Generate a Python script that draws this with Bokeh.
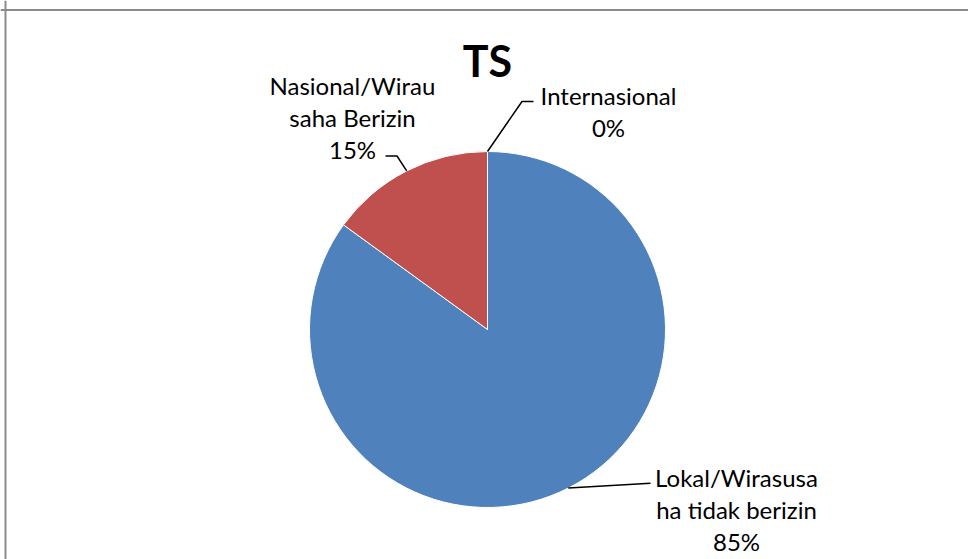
import math
from bokeh.plotting import figure
from bokeh.models import Range1d, Span
from bokeh.core.properties import value
from bokeh.embed import file_html
from bokeh.resources import INLINE

title = "TS"
categories = ["Lokal/Wirasusaha tidak berizin", "Nasional/Wirausaha Berizin", "Internasional"]
values = [85, 15, 0]
label_lines = [["Lokal/Wirasusa", "ha tidak berizin"], ["Nasional/Wirau", "saha Berizin"], ["Internasional"]]
colors = ["#4F81BD", "#C0504D", "#9BBB59"]

W, H = 968, 559
p = figure(width=W, height=H, output_backend="svg", toolbar_location=None,
           x_range=Range1d(0, W), y_range=Range1d(-H, 0),
           min_border=0, outline_line_color=None, background_fill_color="white")
p.axis.visible = False
p.grid.visible = False

cx, cy, r = 487, -329, 178
total = sum(values)
cum = 0.0
starts, ends, mids = [], [], []
for v in values:
    f0 = cum / total
    cum += v
    f1 = cum / total
    starts.append(math.pi / 2 - 2 * math.pi * f1)
    ends.append(math.pi / 2 - 2 * math.pi * f0)
    mids.append(math.pi / 2 - 2 * math.pi * (f0 + f1) / 2)

for s, e, c, v in zip(starts, ends, colors, values):
    if v > 0:
        p.wedge(x=cx, y=cy, radius=r, start_angle=s, end_angle=e, fill_color=c,
                line_color="white", line_width=1)

# label layout (pixel positions: text center x, first line center y, leader elbow)
layout = [
    dict(tx=736, ty=477, elbow=(650, 482.7), end=(650, 482.7)),
    dict(tx=352, ty=85, elbow=(396.5, 155.5), end=(385, 155.5)),
    dict(tx=608, ty=95, elbow=(521.5, 101), end=(533, 101)),
]
font = value("Lato")
for lines, v, m, L in zip(label_lines, values, mids, layout):
    ex = cx + r * math.cos(m)
    ey = cy + r * math.sin(m)
    p.line([ex, L["elbow"][0], L["end"][0]], [ey, -L["elbow"][1], -L["end"][1]],
           line_color="black", line_width=1.5)
    all_lines = lines + [f"{round(100 * v / total)}%"]
    for i, t in enumerate(all_lines):
        p.text(x=[L["tx"]], y=[-(L["ty"] + 32 * i)], text=[t], text_font=font,
               text_font_size="24px", text_align="center", text_baseline="middle",
               text_color="black")

p.text(x=[487], y=[-60], text=[title], text_font=font, text_font_size="43px",
       text_font_style="bold", text_align="center", text_baseline="middle", text_color="black")

p.add_layout(Span(location=-9.5, dimension="width", line_color="#8C8C8C", line_width=2))
p.add_layout(Span(location=5, dimension="height", line_color="#8C8C8C", line_width=2))

open("out.html", "w").write(file_html(p, INLINE))
